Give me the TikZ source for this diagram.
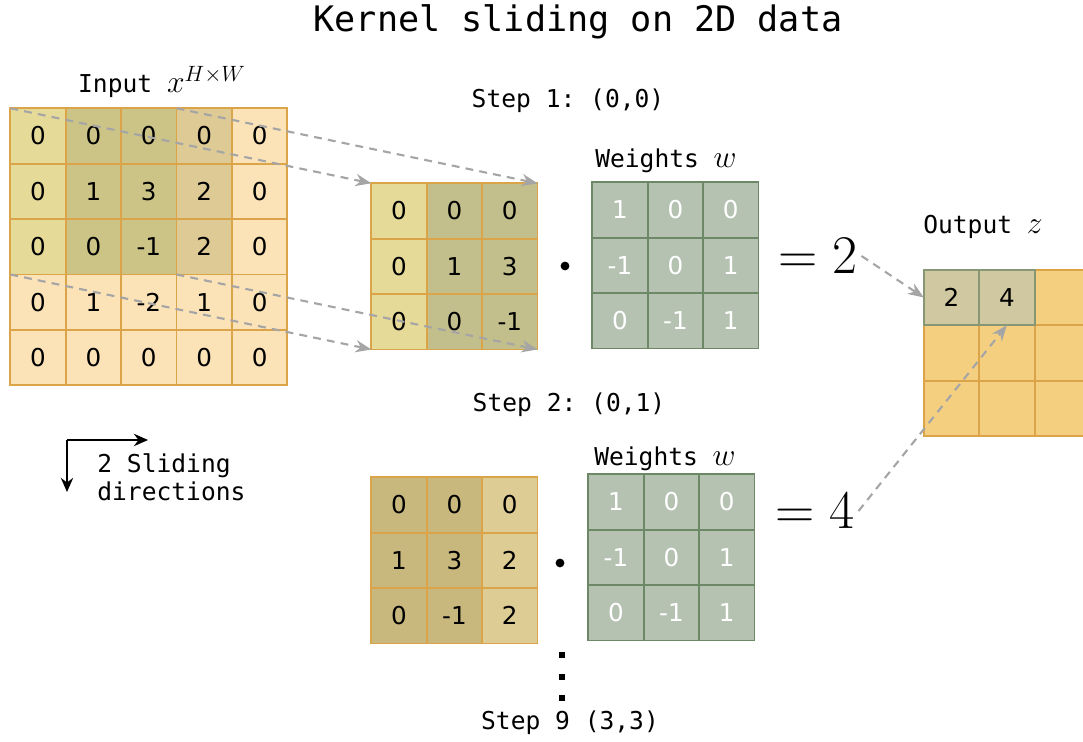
\RequirePackage{fix-cm}
\documentclass[tikz,border=0pt]{standalone}
\usepackage{fontspec}
\setmainfont{DejaVu Sans}
\setsansfont{DejaVu Sans}
\setmonofont{DejaVu Sans Mono}
\usetikzlibrary{arrows.meta}

% cell colours
\definecolor{padcol}{RGB}{251,227,183}
\definecolor{gridcol}{RGB}{220,164,72}
\definecolor{selA}{RGB}{229,218,152}
\definecolor{selAB}{RGB}{203,196,134}
\definecolor{selB}{RGB}{221,202,148}
\definecolor{kdark}{RGB}{194,191,140}
\definecolor{ktan}{RGB}{201,184,126}
\definecolor{klight}{RGB}{221,204,148}
\definecolor{wfill}{RGB}{181,194,177}
\definecolor{wline}{RGB}{108,136,102}
\definecolor{outfill}{RGB}{245,207,128}
\definecolor{outdone}{RGB}{207,200,160}
\definecolor{outline}{RGB}{135,150,115}
\definecolor{arrcol}{RGB}{165,165,165}

\tikzset{
  cell/.style={draw=gridcol, line width=1.1pt, minimum size=1.108cm, inner sep=0pt, outer sep=0pt,
    font=\sffamily\fontsize{14}{14}\selectfont},
  wcell/.style={cell, draw=wline, fill=wfill, text=white},
  lbl/.style={font=\ttfamily\fontsize{14}{16}\selectfont},
  eqn/.style={font=\fontsize{31}{31}\selectfont, inner sep=2pt},
  slide/.style={draw=arrcol, line width=1.2pt, dash pattern=on 4.5pt off 3.5pt,
    -{Stealth[length=9pt,width=7pt]}},
}

\newcommand{\cs}{55.4}
\newcommand{\mvar}[1]{{\fontsize{18}{18}\selectfont$#1$}}

\begin{document}
\begin{tikzpicture}[x=0.02cm, y=-0.02cm]
\useasboundingbox (0,0) rectangle (1083,742);

\node[font=\ttfamily\fontsize{20}{24}\selectfont] (title) at (578,22) {Kernel sliding on 2D data};

% input with the two kernel positions
\node[lbl] (inlbl) at (162,82) {Input \mvar{x^{H\times W}}};
\foreach \row [count=\r from 0] in {{0,0,0,0,0},{0,1,3,2,0},{0,0,-1,2,0},{0,1,-2,1,0},{0,0,0,0,0}}
  \foreach \v [count=\c from 0] in \row {
    \ifnum\r<3
      \ifcase\c \def\fc{selA}\or\def\fc{selAB}\or\def\fc{selAB}\or\def\fc{selB}\else\def\fc{padcol}\fi
    \else \def\fc{padcol}\fi
    \node[cell, fill=\fc] (in-\r-\c) at ({38+\cs*\c},{136+\cs*\r}) {\v};
  }

% step 1
\node[lbl] (step1) at (568,101) {Step 1: (0,0)};
\foreach \row [count=\r from 0] in {{0,0,0},{0,1,3},{0,0,-1}}
  \foreach \v [count=\c from 0] in \row {
    \ifnum\c=0 \def\fc{selA}\else\def\fc{kdark}\fi
    \node[cell, fill=\fc] (k1-\r-\c) at ({399+\cs*\c},{211+\cs*\r}) {\v};
  }
\node[circle, fill, inner sep=0pt, minimum size=5pt] (dot1) at (565,266) {};
\node[lbl] (w1lbl) at (666,161) {Weights \mvar{w}};
\foreach \row [count=\r from 0] in {{1,0,0},{-1,0,1},{0,-1,1}}
  \foreach \v [count=\c from 0] in \row
    \node[wcell] (w1-\r-\c) at ({620+\cs*\c},{210+\cs*\r}) {\v};
\node[eqn] (eq1) at (818,256) {$=2$};

% step 2
\node[lbl] (step2) at (569,405) {Step 2: (0,1)};
\foreach \row [count=\r from 0] in {{0,0,0},{1,3,2},{0,-1,2}}
  \foreach \v [count=\c from 0] in \row {
    \ifnum\c=2 \def\fc{klight}\else\def\fc{ktan}\fi
    \node[cell, fill=\fc] (k2-\r-\c) at ({399+\cs*\c},{505+\cs*\r}) {\v};
  }
\node[circle, fill, inner sep=0pt, minimum size=5pt] (dot2) at (560,563) {};
\node[lbl] (w2lbl) at (665,459) {Weights \mvar{w}};
\foreach \row [count=\r from 0] in {{1,0,0},{-1,0,1},{0,-1,1}}
  \foreach \v [count=\c from 0] in \row
    \node[wcell] (w2-\r-\c) at ({616+\cs*\c},{502+\cs*\r}) {\v};
\node[eqn] (eq2) at (815,511) {$=4$};

% remaining steps
\foreach \y [count=\i] in {655,677,698}
  \node[fill, inner sep=0pt, minimum size=3.4pt] (vd\i) at (562,\y) {};
\node[lbl] (step9) at (570,723) {Step 9 (3,3)};

% output
\node[lbl] (outlbl) at (983,227) {Output \mvar{z}};
\foreach \r in {0,1,2}
  \foreach \c in {0,1,2}
    \node[cell, fill=outfill] (out-\r-\c) at ({951.5+\cs*\c},{297.5+\cs*\r}) {};
\node[cell, draw=outline, fill=outdone] (out-0-0) at (951.5,297.5) {2};
\node[cell, draw=outline, fill=outdone] (out-0-1) at ({951.5+\cs},297.5) {4};

% sliding directions
\coordinate (sd) at (67,440);
\coordinate (sdr) at (148,440);
\coordinate (sdd) at (67,492);
\draw[line width=1.3pt, -{Stealth[length=8pt,width=7pt]}] (sd) -- (sdr);
\draw[line width=1.3pt, -{Stealth[length=8pt,width=7pt]}] (sd) -- (sdd);
\node[lbl, align=left, anchor=north west, inner sep=0pt] (sdlbl) at (97,453) {2 Sliding\\directions};

% projections of the kernel window
\draw[slide] (in-0-0.north west) -- (k1-0-0.north west);
\draw[slide] (in-0-3.north west) -- (k1-0-2.north east);
\draw[slide] (in-3-0.north west) -- (k1-2-0.south west);
\draw[slide] (in-3-3.north west) -- (k1-2-2.south east);
\draw[slide] (eq1.east) -- (out-0-0.west);
\draw[slide] (eq2.east) -- (out-0-1.south);

\end{tikzpicture}
\end{document}
